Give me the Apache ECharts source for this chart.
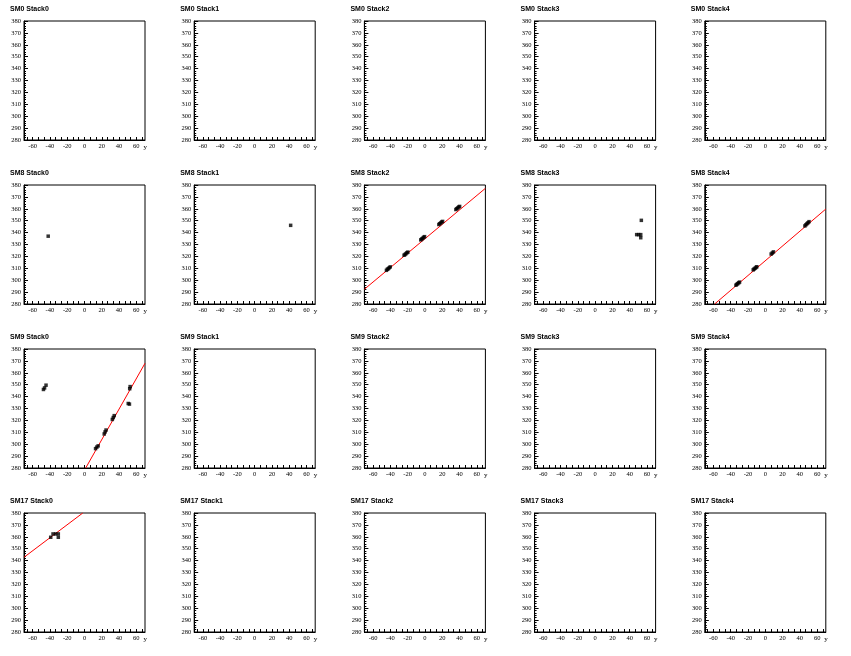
<!DOCTYPE html>
<html><head><meta charset="utf-8">
<script src="https://cdn.jsdelivr.net/npm/echarts@6/dist/echarts.min.js"></script>
<style>html,body{margin:0;padding:0;background:#fff}#c{width:851px;height:656px}</style>
</head><body><div id="c"></div>
<script>
// ---- data ----
const modules = ['SM0', 'SM8', 'SM9', 'SM17'];
const stacks = ['Stack0', 'Stack1', 'Stack2', 'Stack3', 'Stack4'];
const xRange = [-70, 70];
const yRange = [280, 380];
const xTickLabels = [-60, -40, -20, 0, 20, 40, 60];
const xMinorStep = 20 / 3;
const yTickInterval = 10;
const xAxisTitle = 'y';

const sm8s0Points = [[-42, 337]];
const sm8s1Points = [[41.6, 346.1]];
const sm8s2Points = [
  [-44.5, 308.3], [-43.4, 309.2], [-42.3, 309.7], [-41.2, 310.5], [-40.1, 311.2],
  [-24.1, 321.0], [-23.0, 321.6], [-21.9, 322.3], [-20.8, 323.1], [-19.7, 323.6],
  [-4.8, 333.9], [-3.7, 334.6], [-2.6, 335.2], [-1.5, 336.0], [-0.4, 336.6],
  [16.1, 346.8], [17.2, 347.5], [18.3, 348.1], [19.4, 348.9], [20.5, 349.4],
  [35.8, 359.4], [36.9, 360.1], [38.0, 360.7], [39.1, 361.5], [40.2, 362.0]
];
const sm8s2Fit = [[-70, 292.4], [70, 377.2]];
const sm8s3Points = [[53.5, 350.3], [48.1, 338.3], [50.4, 338.3], [52.8, 338.3], [52.8, 335.7]];
const sm8s4Points = [
  [-34.0, 295.8], [-33.0, 296.5], [-31.9, 297.1], [-30.8, 297.8], [-29.8, 298.4],
  [-14.0, 308.7], [-13.0, 309.4], [-11.9, 310.0], [-10.8, 310.7], [-9.8, 311.3],
  [6.8, 322.0], [8.1, 322.9], [9.4, 323.8],
  [45.8, 345.6], [47.0, 346.6], [48.2, 347.5], [49.4, 348.3], [50.6, 349.2]
];
const sm8s4Fit = [[-58.6, 280], [70, 359.8]];
const sm9s0Points = [
  [-47.5, 346.0], [-46.2, 347.3], [-44.5, 349.6],
  [52.3, 346.6], [52.8, 348.4],
  [50.6, 334.2], [52.0, 333.7],
  [32.2, 320.8], [33.3, 322.4], [34.4, 324.0],
  [22.8, 308.6], [23.8, 310.3], [24.9, 311.9],
  [12.8, 296.3], [14.3, 297.6], [15.8, 298.6]
];
const sm9s0Fit = [[1.4, 280], [70, 368]];
const sm17s0Points = [[-39.1, 359.6], [-36.4, 362.4], [-33.4, 362.4], [-30.3, 362.4], [-30.3, 359.6]];
const sm17s0Fit = [[-70, 342.8], [-2, 380]];

const panelData = {
  'SM8 Stack0': { points: sm8s0Points },
  'SM8 Stack1': { points: sm8s1Points },
  'SM8 Stack2': { points: sm8s2Points, fit: sm8s2Fit },
  'SM8 Stack3': { points: sm8s3Points },
  'SM8 Stack4': { points: sm8s4Points, fit: sm8s4Fit },
  'SM9 Stack0': { points: sm9s0Points, fit: sm9s0Fit },
  'SM17 Stack0': { points: sm17s0Points, fit: sm17s0Fit }
};

// ---- layout ----
const colW = 851 / 5, rowH = 164;
const tickVals = [];
for (let m = -80; m <= 80; m += 20) {
  for (let k = 0; k < 3; k++) {
    const v = m + k * xMinorStep;
    if (v > xRange[0] && v < xRange[1]) tickVals.push(v);
  }
}

const titles = [], grids = [], xAxes = [], yAxes = [], series = [];
let idx = 0;
modules.forEach((mod, r) => {
  stacks.forEach((st, c) => {
    const name = mod + ' ' + st;
    const x0 = c * colW, y0 = r * rowH;
    titles.push({
      text: name, left: x0 + 10, top: y0 + 6, padding: 0,
      textStyle: { fontFamily: 'Liberation Sans', fontWeight: 'bold', fontSize: 7, color: '#000' }
    });
    grids.push({
      left: x0 + 24, top: y0 + 21, width: 121, height: 119,
      show: true, borderColor: '#000', borderWidth: 1, backgroundColor: 'transparent'
    });
    xAxes.push({
      gridIndex: idx, type: 'value', min: xRange[0], max: xRange[1],
      name: xAxisTitle, nameLocation: 'end', nameGap: -1,
      nameTextStyle: { fontFamily: 'Liberation Serif', fontSize: 7, color: '#000', align: 'right', verticalAlign: 'top', padding: [4, 0, 0, 0] },
      axisLine: { show: true, onZero: false, lineStyle: { color: '#000', width: 1 } },
      axisTick: { show: true, inside: true, length: 3, customValues: tickVals, lineStyle: { color: '#000' } },
      axisLabel: { show: true, customValues: xTickLabels, margin: 3, fontFamily: 'Liberation Serif', fontSize: 6.5, color: '#000',
        formatter: v => String(v) },
      splitLine: { show: false }
    });
    yAxes.push({
      gridIndex: idx, type: 'value', min: yRange[0], max: yRange[1], interval: yTickInterval,
      axisLine: { show: true, onZero: false, lineStyle: { color: '#000', width: 1 } },
      axisTick: { show: true, inside: true, length: 4, lineStyle: { color: '#000' } },
      minorTick: { show: true, splitNumber: 5, length: 2, lineStyle: { color: '#000' } },
      axisLabel: { show: true, margin: 3, fontFamily: 'Liberation Serif', fontSize: 6.5, color: '#000' },
      splitLine: { show: false }
    });
    const d = panelData[name] || {};
    if (d.fit) {
      series.push({
        type: 'line', xAxisIndex: idx, yAxisIndex: idx, data: d.fit,
        showSymbol: false, symbol: 'none', silent: true, clip: true,
        lineStyle: { color: '#ff0000', width: 1 }, z: 2
      });
    }
    series.push({
      type: 'scatter', xAxisIndex: idx, yAxisIndex: idx, data: d.points || [],
      symbol: 'rect', symbolSize: 3.5, itemStyle: { color: '#000' }, silent: true, z: 3
    });
    idx++;
  });
});

const chart = echarts.init(document.getElementById('c'), null, { renderer: 'canvas' });
chart.setOption({
  animation: false, backgroundColor: '#fff',
  title: titles, grid: grids, xAxis: xAxes, yAxis: yAxes, series: series
});
</script>
</body></html>
